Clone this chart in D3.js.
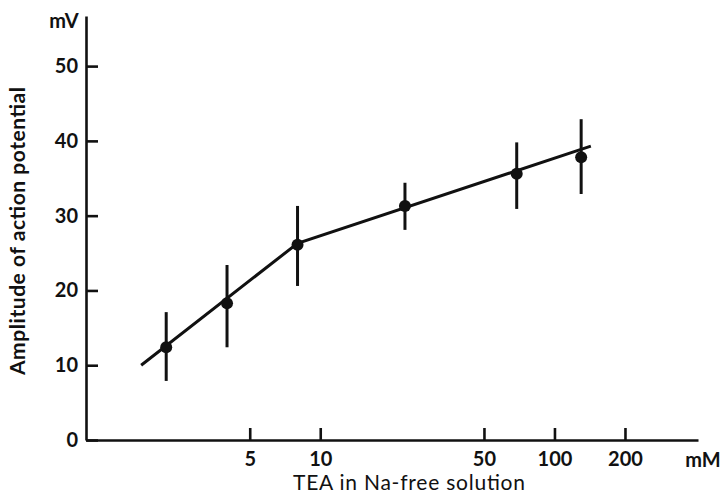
<!DOCTYPE html>
<html>
<head>
<meta charset="utf-8">
<script src="https://cdn.jsdelivr.net/npm/d3@7"></script>
<style>
  body { margin: 0; background: #fff; }
  svg { display: block; }
  text { font-family: Lato, "Open Sans", sans-serif; fill: #111; }
</style>
</head>
<body>
<svg id="chart" width="723" height="495"></svg>
<script>
// TEA concentration (mM) and measured amplitudes (mV)
const concentrations = [2.2, 4, 8, 23, 69, 130];
const amplitudes = [12.4, 18.3, 26.1, 31.3, 35.6, 37.8];
const errLow = [7.9, 12.4, 20.6, 28.1, 30.9, 32.9];
const errHigh = [17.1, 23.4, 31.3, 34.4, 39.8, 42.9];

// fitted line (two segments)
const fitX = [1.72, 8, 143];
const fitY = [10, 26.3, 39.3];

const xTicks = [5, 10, 50, 100, 200];
const yTicks = [0, 10, 20, 30, 40, 50];

const svg = d3.select("#chart");

const x = d3.scaleLog()
  .domain([1, 410])
  .range([86, 698]);

const y = d3.scaleLinear()
  .domain([0, 56.7])
  .range([440, 16]);

// Y axis, ticks pointing inward
const yAxis = svg.append("g")
  .attr("transform", `translate(${x(1)},0)`)
  .call(d3.axisLeft(y).tickValues(yTicks).tickSizeInner(-12).tickSizeOuter(0).tickPadding(8).tickFormat(d => d));

// X axis, ticks pointing up
const xAxis = svg.append("g")
  .attr("transform", `translate(0,${y(0)})`)
  .call(d3.axisBottom(x).tickValues(xTicks).tickSizeInner(-12).tickSizeOuter(0).tickPadding(12).tickFormat(d => d));

[yAxis, xAxis].forEach(g => {
  g.select(".domain").attr("stroke", "#111").attr("stroke-width", 2.6);
  g.selectAll(".tick line").attr("stroke", "#111").attr("stroke-width", 2.6);
  g.selectAll(".tick text")
    .attr("fill", "#111")
    .style("font-size", "20px")
    .style("font-weight", "bold");
});

// units
svg.append("text")
  .attr("x", 64).attr("y", 28)
  .attr("text-anchor", "middle")
  .style("font-size", "20px").style("font-weight", "bold")
  .text("mV");

svg.append("text")
  .attr("x", 703).attr("y", 467)
  .attr("text-anchor", "middle")
  .style("font-size", "20px").style("font-weight", "bold")
  .text("mM");

// axis titles
svg.append("text")
  .attr("x", 409).attr("y", 490)
  .attr("text-anchor", "middle")
  .attr("textLength", 232)
  .attr("lengthAdjust", "spacing")
  .style("font-size", "21px")
  .text("TEA in Na-free solution");

svg.append("text")
  .attr("transform", "translate(25,231) rotate(-90)")
  .attr("text-anchor", "middle")
  .attr("textLength", 288)
  .attr("lengthAdjust", "spacing")
  .style("font-size", "21px").style("font-weight", "bold")
  .text("Amplitude of action potential");

// fitted line
const line = d3.line()
  .x((d, i) => x(fitX[i]))
  .y(d => y(d));

svg.append("path")
  .datum(fitY)
  .attr("fill", "none")
  .attr("stroke", "#111")
  .attr("stroke-width", 3)
  .attr("d", line);

// error bars
svg.selectAll(".err")
  .data(concentrations)
  .enter().append("line")
  .attr("class", "err")
  .attr("x1", d => x(d)).attr("x2", d => x(d))
  .attr("y1", (d, i) => y(errLow[i]))
  .attr("y2", (d, i) => y(errHigh[i]))
  .attr("stroke", "#111")
  .attr("stroke-width", 3);

// points
svg.selectAll(".pt")
  .data(concentrations)
  .enter().append("circle")
  .attr("class", "pt")
  .attr("cx", d => x(d))
  .attr("cy", (d, i) => y(amplitudes[i]))
  .attr("r", 6)
  .attr("fill", "#111");
</script>
</body>
</html>
